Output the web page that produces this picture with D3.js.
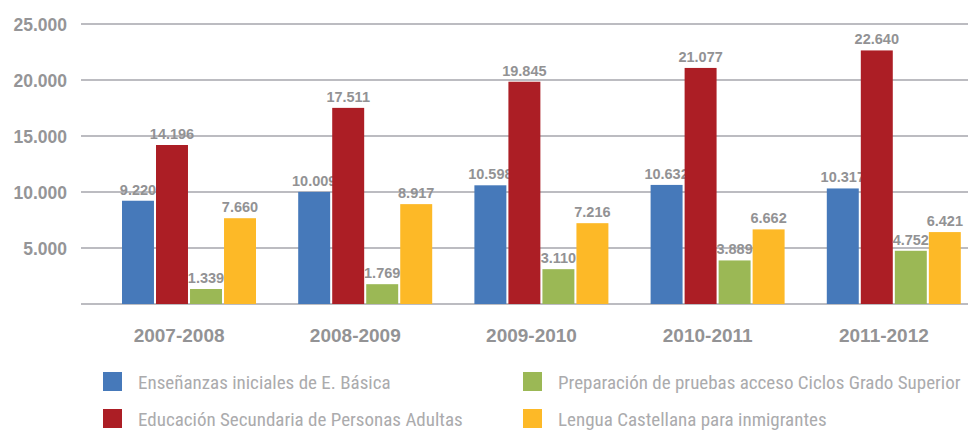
<!DOCTYPE html>
<html>
<head>
<meta charset="utf-8">
<script src="https://cdn.jsdelivr.net/npm/d3@7"></script>
<style>
  body { margin: 0; background: #fff; }
  svg { display: block; }
</style>
</head>
<body>
<svg id="chart" width="968" height="431"></svg>
<script>
"use strict";

// data
var years = ["2007-2008", "2008-2009", "2009-2010", "2010-2011", "2011-2012"];
var seriesNames = [
  "Enseñanzas iniciales de E. Básica",
  "Educación Secundaria de Personas Adultas",
  "Preparación de pruebas acceso Ciclos Grado Superior",
  "Lengua Castellana para inmigrantes"
];
var basica = [9220, 10009, 10598, 10632, 10317];
var secundaria = [14196, 17511, 19845, 21077, 22640];
var pruebas = [1339, 1769, 3110, 3889, 4752];
var castellana = [7660, 8917, 7216, 6662, 6421];
var yTicks = [5000, 10000, 15000, 20000, 25000];
var colors = ["#4679ba", "#ac1e25", "#9bb855", "#fdb927"];

var values = [basica, secundaria, pruebas, castellana];

var svg = d3.select("#chart");

var fmt = function(v){ return d3.format(",")(v).replace(/,/g, "."); };

var x0 = d3.scaleBand()
  .domain(years)
  .range([101, 982]);

var x1 = d3.scaleBand()
  .domain(d3.range(seriesNames.length))
  .range([21, 155])
  .paddingInner(0.06);

var y = d3.scaleLinear()
  .domain([0, 25000])
  .range([304, 24]);

// grid + y labels
var grid_g = svg.append("g");

grid_g.selectAll("line")
  .data([0].concat(yTicks))
  .enter()
  .append("line")
  .attr("x1", 81)
  .attr("x2", 968)
  .attr("y1", function(d){ return y(d); })
  .attr("y2", function(d){ return y(d); })
  .attr("stroke", "#bcbcc1")
  .attr("stroke-width", 2);

grid_g.selectAll("text")
  .data(yTicks)
  .enter()
  .append("text")
  .attr("x", 67)
  .attr("y", function(d){ return y(d) + 6.5; })
  .attr("text-anchor", "end")
  .attr("font-family", "Liberation Sans, Arial, sans-serif")
  .attr("font-weight", "bold")
  .attr("font-size", "17.5px")
  .attr("fill", "#959597")
  .text(fmt);

// bars
var groups = svg.selectAll(".year")
  .data(years)
  .enter()
  .append("g")
  .attr("class", "year")
  .attr("transform", function(d){ return "translate(" + x0(d) + ",0)"; });

var cells = groups.selectAll(".bar")
  .data(function(d, i){
    return values.map(function(s, k){ return {k: k, v: s[i]}; });
  })
  .enter()
  .append("g")
  .attr("class", "bar");

cells.append("rect")
  .attr("x", function(d){ return x1(d.k); })
  .attr("width", x1.bandwidth())
  .attr("y", function(d){ return y(d.v); })
  .attr("height", function(d){ return y(0) - y(d.v); })
  .attr("fill", function(d){ return colors[d.k]; });

cells.append("text")
  .attr("x", function(d){ return x1(d.k) + x1.bandwidth() / 2; })
  .attr("y", function(d){ return y(d.v) - 6; })
  .attr("text-anchor", "middle")
  .attr("font-family", "Liberation Sans, Arial, sans-serif")
  .attr("font-weight", "bold")
  .attr("font-size", "14.5px")
  .attr("fill", "#929294")
  .text(function(d){ return fmt(d.v); });

// category labels
svg.append("g")
  .selectAll("text")
  .data(years)
  .enter()
  .append("text")
  .attr("x", function(d){ return x0(d) + x0.bandwidth() / 2 - 10; })
  .attr("y", 342)
  .attr("text-anchor", "middle")
  .attr("font-family", "Liberation Sans, Arial, sans-serif")
  .attr("font-weight", "bold")
  .attr("font-size", "19px")
  .attr("fill", "#939395")
  .text(function(d){ return d; });

// legend
var legendPos = [[103, 372], [103, 409], [523, 372], [523, 409]];

var legend = svg.append("g")
  .selectAll("g")
  .data(seriesNames)
  .enter()
  .append("g")
  .attr("transform", function(d, i){ return "translate(" + legendPos[i][0] + "," + legendPos[i][1] + ")"; });

legend.append("rect")
  .attr("width", 19)
  .attr("height", 19)
  .attr("fill", function(d, i){ return colors[i]; });

legend.append("text")
  .attr("x", 35)
  .attr("y", 17)
  .attr("font-family", "Roboto Condensed, Liberation Sans, sans-serif")
  .attr("font-size", "19px")
  .attr("fill", "#ababad")
  .text(function(d){ return d; });
</script>
</body>
</html>
